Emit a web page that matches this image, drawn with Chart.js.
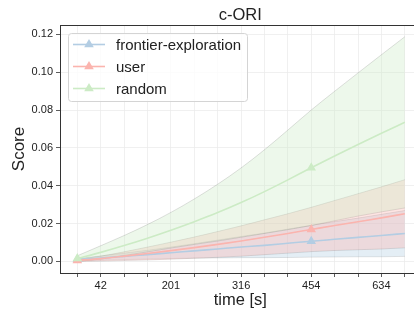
<!DOCTYPE html>
<html>
<head>
<meta charset="utf-8">
<script src="https://cdn.jsdelivr.net/npm/chart.js@4.4.0/dist/chart.umd.min.js"></script>
<style>
html, body { margin: 0; padding: 0; overflow: hidden; background: #fff; }
</style>
</head>
<body>
<canvas id="myChart" width="426" height="314"></canvas>
<script>
// x positions are sample indices, only some of them carry a time label
const steps = [0, 1, 2, 3, 4, 5, 6, 7, 8, 9, 10, 11, 12, 13, 14];
const xTickIndex = [1, 4, 7, 10, 13];
const xTickText = ['42', '201', '316', '454', '634'];
const yTicks = [0, 0.02, 0.04, 0.06, 0.08, 0.10, 0.12];
const markerIdx = [0, 10];

const seriesNames = ['frontier-exploration', 'user', 'random'];
const frontierMean = [0.001, 0.0018, 0.0027, 0.0036, 0.0046, 0.0056, 0.0066, 0.0076, 0.0085, 0.0096, 0.0107, 0.0117, 0.0127, 0.0137, 0.0148];
const frontierSd = [0.0005, 0.0011, 0.0017, 0.0023, 0.003, 0.0038, 0.0047, 0.0056, 0.0065, 0.0075, 0.0084, 0.0093, 0.0102, 0.0112, 0.0121];
const userMean = [0.0005, 0.0015, 0.0028, 0.0042, 0.0057, 0.0073, 0.009, 0.0108, 0.0128, 0.0148, 0.0169, 0.019, 0.021, 0.023, 0.0252];
const userSd = [0.0005, 0.0013, 0.0023, 0.0034, 0.0045, 0.0056, 0.0068, 0.008, 0.0092, 0.0104, 0.0117, 0.0132, 0.0148, 0.0164, 0.018];
const randomMean = [0.0015, 0.0048, 0.0084, 0.0123, 0.0165, 0.021, 0.0258, 0.0311, 0.0369, 0.0431, 0.0495, 0.0557, 0.0618, 0.0677, 0.0735];
const randomSd = [0.0015, 0.0035, 0.0053, 0.0072, 0.0094, 0.012, 0.015, 0.0183, 0.0221, 0.0263, 0.0305, 0.0342, 0.0378, 0.0415, 0.0452];

const colors = ['#b3cde3', '#fbb4ae', '#ccebc5'];
const fills = ['rgba(179,205,227,0.35)', 'rgba(251,180,174,0.35)', 'rgba(204,235,197,0.35)'];
const means = [frontierMean, userMean, randomMean];
const sds = [frontierSd, userSd, randomSd];

Chart.defaults.font.family = "'Liberation Sans', Arial, sans-serif";
Chart.defaults.color = '#222';

const datasets = [];
means.forEach((m, s) => {
    datasets.push({
        label: seriesNames[s] + ' low',
        data: steps.map((x, i) => ({x: x, y: m[i] - sds[s][i]})),
        borderColor: 'rgba(0,0,0,0.12)', borderWidth: 1,
        cubicInterpolationMode: 'monotone',
        pointRadius: 0, fill: false, order: 20 - s * 2
    });
    datasets.push({
        label: seriesNames[s] + ' high',
        data: steps.map((x, i) => ({x: x, y: m[i] + sds[s][i]})),
        borderColor: 'rgba(0,0,0,0.12)', borderWidth: 1,
        backgroundColor: fills[s],
        cubicInterpolationMode: 'monotone',
        pointRadius: 0, fill: '-1', order: 19 - s * 2
    });
});
means.forEach((m, s) => {
    datasets.push({
        label: seriesNames[s],
        data: steps.map((x, i) => ({x: x, y: m[i]})),
        borderColor: colors[s], borderWidth: 1.6,
        backgroundColor: colors[s],
        cubicInterpolationMode: 'monotone',
        pointStyle: 'triangle',
        pointRadius: steps.map(i => markerIdx.includes(i) ? 5.5 : 0),
        pointBorderWidth: 0,
        fill: false, order: 5 - s
    });
});

const frame = {
    id: 'frame',
    afterDraw(chart) {
        const {ctx, chartArea: a} = chart;
        ctx.save();
        // title over the axes box (its right part runs past the window)
        ctx.fillStyle = '#222';
        ctx.font = "16.5px 'Liberation Sans', Arial, sans-serif";
        ctx.textAlign = 'center';
        ctx.textBaseline = 'middle';
        ctx.fillText('c-ORI', (a.left + a.right) / 2, 15);
        // top spine
        ctx.strokeStyle = '#333';
        ctx.lineWidth = 1;
        ctx.beginPath();
        ctx.moveTo(a.left, a.top + 0.5);
        ctx.lineTo(a.right, a.top + 0.5);
        ctx.stroke();
        // legend box
        const bx = 68, by = 33, bw = 179, bh = 68, r = 3;
        ctx.beginPath();
        ctx.roundRect(bx + 0.5, by + 0.5, bw, bh, r);
        ctx.fillStyle = 'rgba(255,255,255,0.8)';
        ctx.fill();
        ctx.strokeStyle = '#d4d4d4';
        ctx.stroke();
        ctx.font = "15px 'Liberation Sans', Arial, sans-serif";
        ctx.textAlign = 'left';
        seriesNames.forEach((name, s) => {
            const y = 44.5 + s * 22;
            ctx.strokeStyle = colors[s];
            ctx.lineWidth = 1.6;
            ctx.beginPath();
            ctx.moveTo(73, y);
            ctx.lineTo(105, y);
            ctx.stroke();
            ctx.fillStyle = colors[s];
            ctx.beginPath();
            ctx.moveTo(89, y - 5.5);
            ctx.lineTo(89 + 4.8, y + 2.75);
            ctx.lineTo(89 - 4.8, y + 2.75);
            ctx.closePath();
            ctx.fill();
            ctx.fillStyle = '#222';
            ctx.fillText(name, 116, y + 1);
        });
        ctx.restore();
    }
};

const config = {
    type: 'line',
    data: { datasets: datasets },
    options: {
        responsive: false,
        animation: false,
        layout: { padding: { top: 25, right: 0, left: 0, bottom: 0 } },
        plugins: { legend: { display: false }, tooltip: { enabled: false }, title: { display: false } },
        scales: {
            x: {
                type: 'linear',
                min: -0.74,
                max: 14.67,
                afterBuildTicks: s => { s.ticks = steps.map(v => ({value: v})); },
                afterFit: s => { s.height = 41; },
                ticks: {
                    autoSkip: false, maxRotation: 0, padding: 2,
                    font: { size: 11 },
                    callback: v => {
                        const k = xTickIndex.indexOf(v);
                        return k >= 0 ? xTickText[k] : '';
                    }
                },
                grid: { color: '#ececec', lineWidth: 0.8, tickColor: '#333', tickLength: 4 },
                border: { color: '#333', width: 1 },
                title: { display: true, text: 'time [s]', font: { size: 16.5 }, padding: { top: 0, bottom: 4 } }
            },
            y: {
                min: -0.0061,
                max: 0.1249,
                afterBuildTicks: s => { s.ticks = yTicks.map(v => ({value: v})); },
                afterFit: s => { s.width = 60; },
                ticks: { font: { size: 11 }, padding: 3, callback: v => v.toFixed(2) },
                grid: { color: '#ececec', lineWidth: 0.8, tickColor: '#333', tickLength: 4 },
                border: { color: '#333', width: 1 },
                title: { display: true, text: 'Score', font: { size: 17 }, padding: { top: 9, bottom: 0 } }
            }
        }
    },
    plugins: [frame]
};

const myChart = new Chart(document.getElementById('myChart'), config);
</script>
</body>
</html>
